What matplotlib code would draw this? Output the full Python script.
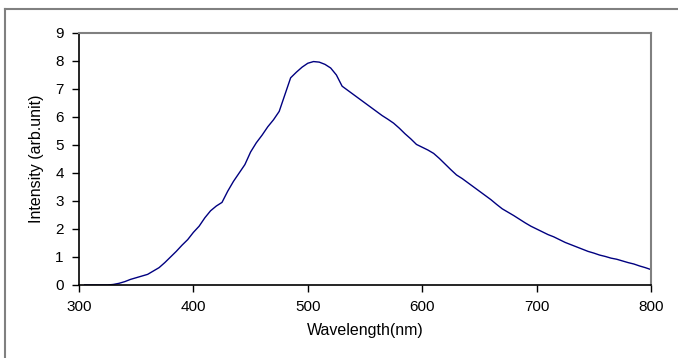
"""
Photoluminescence spectrum - intensity vs wavelength.
"""

import numpy as np
import matplotlib.pyplot as plt
from matplotlib.lines import Line2D

# ============================================================================
# DATA
# ============================================================================

wavelength = list(range(305, 805, 5))

intensity = [
    0.0, 0.0, 0.0, 0.0, 0.0, 0.02, 0.06, 0.12, 0.2, 0.26,          # 305-350
    0.32, 0.38, 0.5, 0.62, 0.8, 1.0, 1.2, 1.42, 1.62, 1.88,         # 355-400
    2.1, 2.4, 2.65, 2.82, 2.95, 3.35, 3.7, 4.0, 4.3, 4.75,          # 405-450
    5.08, 5.35, 5.65, 5.9, 6.2, 6.8, 7.4, 7.6, 7.78, 7.92,          # 455-500
    7.98, 7.96, 7.88, 7.75, 7.5, 7.1, 6.95, 6.8, 6.65, 6.5,         # 505-550
    6.35, 6.2, 6.05, 5.92, 5.78, 5.6, 5.4, 5.22, 5.02, 4.92,        # 555-600
    4.82, 4.7, 4.52, 4.32, 4.12, 3.93, 3.8, 3.65, 3.5, 3.35,        # 605-650
    3.2, 3.05, 2.88, 2.72, 2.6, 2.48, 2.35, 2.22, 2.1, 2.0,         # 655-700
    1.9, 1.8, 1.72, 1.62, 1.52, 1.44, 1.36, 1.28, 1.2, 1.14,        # 705-750
    1.07, 1.02, 0.96, 0.92, 0.86, 0.8, 0.75, 0.68, 0.62, 0.55,      # 755-800
]

x_ticks = [300, 400, 500, 600, 700, 800]
y_ticks = list(range(0, 10))

LINE_COLOR = "#000080"
FRAME_GRAY = "#808080"

# ============================================================================
# PLOT
# ============================================================================

plt.rcParams['font.family'] = ['Liberation Sans', 'DejaVu Sans']

fig = plt.figure(figsize=(6.78, 3.58), dpi=100)
ax = fig.add_axes([79 / 678, 1 - 285 / 358, 572 / 678, 252 / 358])

ax.plot(wavelength, intensity, color=LINE_COLOR, linewidth=1.0)

ax.set_xlim(300, 800)
ax.set_ylim(0, 9)
ax.set_xticks(x_ticks)
ax.set_yticks(y_ticks)

ax.tick_params(axis='both', direction='out', length=5, width=1,
               labelsize=11, pad=6, color='black')
ax.tick_params(axis='x', pad=6)

for side in ['top', 'right']:
    ax.spines[side].set_color(FRAME_GRAY)
    ax.spines[side].set_linewidth(1.5)
for side in ['left', 'bottom']:
    ax.spines[side].set_color('black')
    ax.spines[side].set_linewidth(1.2)

ax.set_xlabel('Wavelength(nm)', fontsize=11.5, va='center')
ax.set_ylabel('Intensity (arb.unit)', fontsize=11.5, va='center')
ax.xaxis.set_label_coords(0.5, (285 - 331) / 252)
ax.yaxis.set_label_coords((37 - 79) / 572, 0.5)

# outer chart frame (left and top edges visible)
fig.add_artist(Line2D([5 / 678, 5 / 678], [0, 1 - 9 / 358],
                      transform=fig.transFigure, color=FRAME_GRAY, linewidth=1.5))
fig.add_artist(Line2D([5 / 678, 1], [1 - 9 / 358, 1 - 9 / 358],
                      transform=fig.transFigure, color=FRAME_GRAY, linewidth=1.5))

fig.savefig('out.png', dpi=100)
